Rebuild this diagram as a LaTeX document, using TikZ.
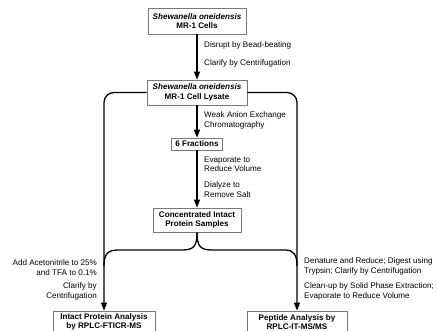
\documentclass[tikz,border=0pt]{standalone}
\usepackage{fontspec}
\setmainfont{Liberation Sans}
\usetikzlibrary{arrows.meta}
\definecolor{boxgray}{RGB}{120,120,120}
\begin{document}
\begin{tikzpicture}[x=1pt,y=-1pt,
  box/.style={draw=boxgray, line width=0.8pt, fill=white, inner sep=0pt, align=center, font=\bfseries\fontsize{8.1}{9.6}\selectfont},
  conn/.style={line width=1.3pt, black},
  arr/.style={conn, -{Triangle[length=8pt,width=6pt]}},
  lbl/.style={inner sep=0pt, font=\fontsize{8.1}{9.4}\selectfont}]
\useasboundingbox[fill=white] (0,0) rectangle (438,331);

% boxes
\node[box, minimum width=98pt, minimum height=26pt] (cells) at (197,21) {\textit{Shewanella oneidensis}\\MR-1 Cells};
\node[box, minimum width=100pt, minimum height=25pt] (lysate) at (197,92.5) {\textit{Shewanella oneidensis}\\MR-1 Cell Lysate};
\node[box, minimum width=51pt, minimum height=12pt] (frac) at (197,144) {6 Fractions};
\node[box, minimum width=88pt, minimum height=24pt] (conc) at (197,220) {Concentrated Intact\\Protein Samples};
\node[box, minimum width=102pt, minimum height=22pt] (intact) at (104,322) {Intact Protein Analysis\\by RPLC-FTICR-MS};
\node[box, minimum width=100pt, minimum height=22pt] (peptide) at (297,322) {Peptide Analysis by\\RPLC-IT-MS/MS};

% vertical flow
\draw[arr] (cells) -- (lysate);
\draw[arr] (lysate) -- (frac);
\draw[arr] (frac) -- (conc);

% side branches
\draw[arr, rounded corners=10pt] (lysate.west) -| (intact.north);
\draw[arr, rounded corners=10pt] (lysate.east) -| (peptide.north);

% brace
\coordinate (bl) at (104,266);
\coordinate (br) at (297,266);
\draw[conn] (conc.south) .. controls (197,246) and (194,250) .. (182,250) -- (118,250) .. controls (107,250) and (104,255) .. (bl);
\draw[conn] (conc.south) .. controls (197,246) and (200,250) .. (212,250) -- (285,250) .. controls (294,250) and (297,255) .. (br);

% labels
\node[lbl, anchor=west] (l1) at (204,45) {Disrupt by Bead-beating};
\node[lbl, anchor=west] (l2) at (204,63) {Clarify by Centrifugation};
\node[lbl, anchor=west, align=left] (l3) at (204,120.5) {Weak Anion Exchange\\Chromatography};
\node[lbl, anchor=west, align=left] (l4) at (204,164.5) {Evaporate to\\Reduce Volume};
\node[lbl, anchor=west, align=left] (l5) at (204,189.5) {Dialyze to\\Remove Salt};
\node[lbl, anchor=east, align=right] (l6) at (97,267.5) {Add Acetonitrile to 25\%\\and TFA to 0.1\%};
\node[lbl, anchor=east, align=right] (l7) at (97,291.5) {Clarify by\\Centrifugation};
\node[lbl, anchor=west, align=left] (l8) at (304,266.5) {Denature and Reduce; Digest using\\Trypsin; Clarify by Centrifugation};
\node[lbl, anchor=west, align=left] (l9) at (304,291.5) {Clean-up by Solid Phase Extraction;\\Evaporate to Reduce Volume};
\end{tikzpicture}
\end{document}
